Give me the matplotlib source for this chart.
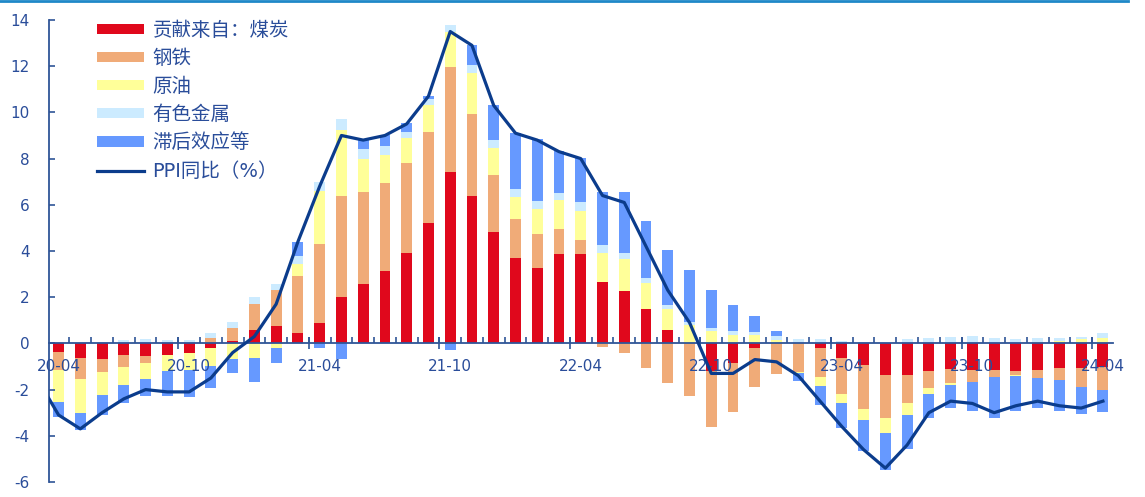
import numpy as np
import matplotlib
matplotlib.use("Agg")
import matplotlib.pyplot as plt
from matplotlib.lines import Line2D

plt.rcParams['font.family'] = ['DejaVu Sans', 'Noto Sans CJK SC']
plt.rcParams['axes.unicode_minus'] = False

# monthly, 2020-04 .. 2024-04 (index 0..48)
tick_labels = ['20-04', '20-10', '21-04', '21-10', '22-04', '22-10', '23-04', '23-10', '24-04']

coal = [-0.36, -0.62, -0.66, -0.52, -0.56, -0.52, -0.40, -0.19, 0.10, 0.60,
        0.75, 0.46, 0.88, 2.02, 2.56, 3.14, 3.90, 5.20, 7.41, 6.39,
        4.84, 3.71, 3.28, 3.89, 3.87, 2.67, 2.27, 1.49, 0.60, 0.00,
        -1.20, -0.84, -0.22, 0.00, 0.00, -0.22, -0.65, -0.92, -1.39, -1.39,
        -1.20, -1.13, -1.16, -1.16, -1.20, -1.16, -1.05, -1.08, -1.01]
steel = [-0.80, -0.92, -0.58, -0.52, -0.30, 0.00, 0.00, 0.24, 0.56, 1.10,
         1.56, 2.44, 3.41, 4.36, 3.99, 3.80, 3.90, 3.97, 4.54, 3.55,
         2.43, 1.66, 1.47, 1.05, 0.61, -0.14, -0.43, -1.08, -1.73, -2.27,
         -2.43, -2.14, -1.66, -1.33, -1.23, -1.23, -1.55, -1.92, -1.82, -1.18,
         -0.72, -0.58, -0.53, -0.29, -0.19, -0.32, -0.55, -0.82, -1.00]
oil = [-1.37, -1.46, -1.01, -0.74, -0.68, -0.66, -0.77, -0.78, -0.68, -0.62,
       -0.22, 0.52, 2.30, 2.86, 1.45, 1.23, 1.08, 1.13, 1.52, 1.76,
       1.17, 0.98, 1.07, 1.26, 1.24, 1.24, 1.40, 1.11, 0.91, 0.79,
       0.53, 0.38, 0.36, 0.14, -0.07, -0.40, -0.40, -0.48, -0.65, -0.55,
       -0.27, -0.07, 0.00, 0.00, -0.04, 0.08, 0.10, 0.17, 0.25]
nonferrous = [0.00, 0.00, 0.05, 0.14, 0.20, 0.16, 0.16, 0.19, 0.26, 0.32,
              0.26, 0.38, 0.40, 0.46, 0.43, 0.39, 0.29, 0.29, 0.33, 0.36,
              0.36, 0.33, 0.36, 0.33, 0.40, 0.35, 0.26, 0.22, 0.14, 0.14,
              0.12, 0.14, 0.14, 0.17, 0.19, 0.17, 0.10, 0.05, 0.00, 0.17,
              0.25, 0.29, 0.32, 0.25, 0.20, 0.17, 0.13, 0.09, 0.22]
lag = [-0.65, -0.75, -0.85, -0.78, -0.72, -1.08, -1.13, -0.95, -0.62, -1.07,
       -0.65, 0.59, -0.22, -0.68, 0.42, 0.48, 0.36, 0.13, -0.29, 0.87,
       1.52, 2.44, 2.66, 1.81, 1.91, 2.31, 2.62, 2.49, 2.38, 2.24,
       1.66, 1.13, 0.68, 0.22, -0.32, -0.82, -1.08, -1.33, -1.60, -1.46,
       -1.04, -1.00, -1.23, -1.78, -1.50, -1.33, -1.34, -1.14, -0.95]
# PPI yoy starts one month earlier (2020-03), drawn clipped at the axis edge
ppi = [-1.5, -3.1, -3.7, -3.0, -2.4, -2.0, -2.1, -2.1, -1.5, -0.4, 0.3,
       1.7, 4.4, 6.8, 9.0, 8.8, 9.0, 9.5, 10.7, 13.5, 12.9,
       10.3, 9.1, 8.8, 8.3, 8.0, 6.4, 6.1, 4.2, 2.3, 0.9,
       -1.3, -1.3, -0.7, -0.8, -1.4, -2.5, -3.6, -4.6, -5.4, -4.4,
       -3.0, -2.5, -2.6, -3.0, -2.7, -2.5, -2.7, -2.8, -2.5]

names = ['贡献来自：煤炭', '钢铁', '原油', '有色金属', '滞后效应等']
colors = ['#E0081C', '#F0AB78', '#FFFF99', '#CCEBFF', '#6699FF']
series = [coal, steel, oil, nonferrous, lag]

axis_blue = '#2F5597'
text_blue = '#2A4D9A'

fig = plt.figure(figsize=(11.45, 4.97), dpi=100)
ax = fig.add_axes([0.0428, 0.0302, 0.9292, 0.9296])

x = np.arange(len(coal))
pos_base = np.zeros(len(x))
neg_base = np.zeros(len(x))
handles = []
for vals, name, c in zip(series, names, colors):
    v = np.array(vals)
    bottom = np.where(v >= 0, pos_base, neg_base)
    b = ax.bar(x, v, width=0.5, bottom=bottom, color=c, label=name, zorder=2)
    handles.append(b)
    pos_base += np.clip(v, 0, None)
    neg_base += np.clip(v, None, 0)

ln, = ax.plot(np.arange(-1, len(ppi) - 1), ppi, color='#0B3C8C', lw=2.3,
              label='PPI同比（%）', zorder=3)
handles.append(ln)

ax.set_xlim(-0.44, 48.46)
ax.set_ylim(-6, 14)
ax.set_yticks(np.arange(-6, 15, 2))
ax.set_axisbelow(False)

for s in ['top', 'right']:
    ax.spines[s].set_visible(False)
ax.spines['bottom'].set_position(('data', 0))
for s in ['left', 'bottom']:
    ax.spines[s].set_color(axis_blue)
    ax.spines[s].set_linewidth(1.3)

ax.set_xticks(np.arange(0, 49, 6), tick_labels)
ax.set_xticks(np.arange(0.5, 48, 1), minor=True)
ax.tick_params(axis='x', which='major', length=0, pad=11, labelsize=11, labelcolor=text_blue)
ax.tick_params(axis='x', which='minor', direction='in', length=4, width=1.2, color=axis_blue)
ax.tick_params(axis='y', direction='in', length=4, width=1.2, color=axis_blue,
               pad=14, labelsize=11, labelcolor=text_blue)

# longer ticks every six months crossing the zero line
sec = ax.secondary_xaxis(0.3)
sec.set_xticks(np.arange(5.5, 48, 6))
sec.tick_params(direction='inout', length=9, width=1.2, color=axis_blue, labelbottom=False)
sec.spines['bottom'].set_visible(False)

leg = ax.legend(handles=handles, loc='upper left', bbox_to_anchor=(0.0847, 0.958),
                bbox_transform=fig.transFigure,
                frameon=False, fontsize=14, borderpad=0, borderaxespad=0,
                handlelength=2.4, handleheight=0.42, handletextpad=0.45, labelspacing=0.47)
for t in leg.get_texts():
    t.set_color(text_blue)

fig.add_artist(Line2D([0, 0.985], [0.998, 0.998], transform=fig.transFigure,
                      color='#1E88C8', lw=2))

fig.savefig('out.png', dpi=100, facecolor='white')
